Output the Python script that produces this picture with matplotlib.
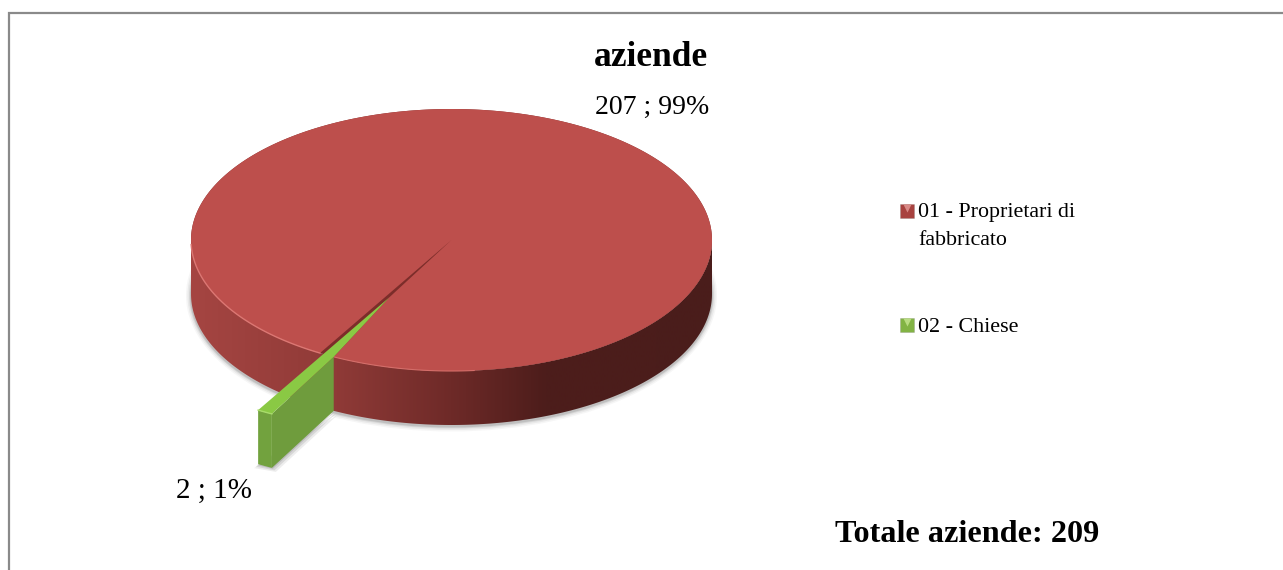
"""Exploded 3-D style pie: aziende per categoria."""

import numpy as np
import matplotlib

matplotlib.use("Agg")
import matplotlib.pyplot as plt
from matplotlib.colors import LinearSegmentedColormap
from matplotlib.patches import Ellipse, Polygon

title = "aziende"
categories = ["01 - Proprietari di\nfabbricato", "02 - Chiese"]
values = [207, 2]
point_labels = ["207 ; 99%", "2 ; 1%"]
total_label = "Totale aziende: 209"

W, H = 1283, 570
CX, CY, RX, RY = 451.5, 240, 260.5, 131
DEPTH = 54
EXPLODE = 0.496
MID_ANGLE = 118.6  # screen degrees, y down
SERIF = ["Liberation Serif", "DejaVu Serif"]


def rim(a_deg, r=1.0, off=(0.0, 0.0)):
    a = np.radians(a_deg)
    return np.column_stack([CX + (off[0] + r * np.cos(a)) * RX,
                            CY + (off[1] + r * np.sin(a)) * RY])


def shaded(ax, poly, cmap, x0, x1, zorder):
    """Fill a polygon with a horizontal gradient."""
    patch = Polygon(poly, closed=True, fc="none", ec="none", zorder=zorder)
    ax.add_patch(patch)
    im = ax.imshow(np.linspace(0, 1, 256)[None, :], cmap=cmap, aspect="auto",
                   extent=(x0, x1, H, 0), zorder=zorder, interpolation="bilinear")
    im.set_clip_path(patch)


fig = plt.figure(figsize=(W / 100, H / 100), dpi=100)
ax = fig.add_axes([0, 0, 1, 1])
ax.set_xlim(0, W)
ax.set_ylim(H, 0)
ax.axis("off")

# chart frame
ax.plot([9, 9, W], [H, 13, 13], color="#8a8a8a", lw=1.6, solid_joinstyle="miter")

sweep = values[1] / sum(values) * 360
a0, a1 = MID_ANGLE - sweep / 2, MID_ANGLE + sweep / 2
u = (EXPLODE * np.cos(np.radians(MID_ANGLE)), EXPLODE * np.sin(np.radians(MID_ANGLE)))
tip = np.array([CX + u[0] * RX, CY + u[1] * RY])
out = rim(np.linspace(a0, a1, 8), off=u)
hit = rim(a0)[0]  # where the slice's right edge crosses the pie's rim

# soft shadows
for grow, alpha in zip([5, 3.5, 2, 1], [0.05, 0.08, 0.12, 0.18]):
    ax.add_patch(Ellipse((CX, CY + DEPTH + 1.5), 2 * RX + 2 * grow, 2 * RY + 2 * grow,
                         fc="#555555", alpha=alpha, ec="none", zorder=1))
for grow, alpha in zip([4, 2.5, 1], [0.1, 0.15, 0.2]):
    ax.add_patch(Polygon([out[0] + [grow, DEPTH + grow], out[-1] + [-grow, DEPTH + grow],
                          hit + [grow, DEPTH + grow]], fc="#555555", alpha=alpha, ec="none", zorder=3))

# red side wall
red_side = LinearSegmentedColormap.from_list(
    "red_side", [(0.0, "#a54542"), (0.28, "#8f3a37"), (0.5, "#6e2a28"),
                 (0.68, "#4d1d1b"), (1.0, "#4a1d1b")])
front = rim(np.linspace(0, 180, 200))
wall = np.vstack([front, (front + [0, DEPTH])[::-1]])
shaded(ax, wall, red_side, CX - RX, CX + RX, 2)

# red top: everything but the missing wedge; the slot is only open left of the slice
top = np.vstack([[[CX, CY]], rim(np.linspace(a1, a0 + 360, 400)), [tip]])
ax.add_patch(Polygon(rim(np.linspace(0, 360, 400)), fc="#7c2d2a", ec="none", zorder=4))
ax.add_patch(Polygon(top, fc="#bd4f4c", ec="none", zorder=5))
ax.plot(*rim(np.linspace(a1, 178, 120)).T, color="#dc7773", lw=1.0, zorder=6)
ax.plot(*rim(np.linspace(85, a0, 60)).T, color="#d56e6a", lw=0.8, zorder=6)

# green slice: front face, end face, then top
face = np.array([out[0], hit, hit + [0, DEPTH], out[0] + [0, DEPTH]])
ax.add_patch(Polygon(face, fc="#6f9c3d", ec="none", zorder=7))
ax.add_patch(Polygon(np.vstack([out, (out + [0, DEPTH])[::-1]]), fc="#72a23e", ec="none", zorder=7))
ax.add_patch(Polygon(np.vstack([tip, hit, out]), fc="#8ac944", ec="none", zorder=8))
ax.plot(*out.T, color="#a8dc6a", lw=1.0, zorder=9)

# labels
ax.text(651, 58, title, family=SERIF, fontsize=25.5, fontweight="bold", ha="center", va="center")
ax.text(652, 107, point_labels[0], family=SERIF, fontsize=20, ha="center", va="center")
ax.text(214, 491, point_labels[1], family=SERIF, fontsize=21, ha="center", va="center")
ax.text(967, 535, total_label, family=SERIF, fontsize=23.2, fontweight="bold", ha="center", va="center")

# legend
for y, label, color, light in zip([211, 325], categories, ["#a8423f", "#82b344"], ["#d98a87", "#b9dc82"]):
    ax.scatter([907], [y], s=100, marker="s", color=color, edgecolor="#77777755", lw=0.5, zorder=5)
    ax.scatter([907], [y - 3.5], s=34, marker="v", color=light, lw=0, zorder=6)
    ax.text(918, y - 7.5, label, family=SERIF, fontsize=15.8, ha="left", va="top", linespacing=1.62)

fig.savefig("out.png", dpi=100)
